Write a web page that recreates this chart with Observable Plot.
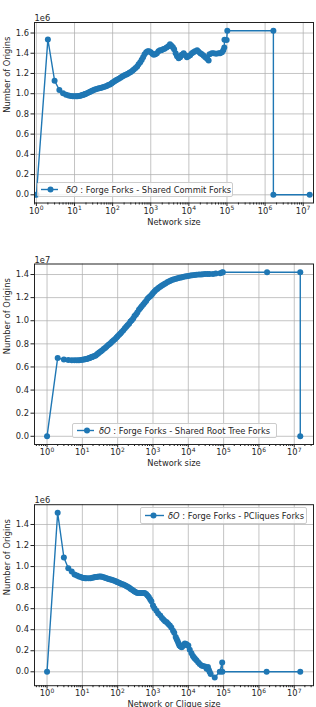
<!DOCTYPE html>
<html><head><meta charset="utf-8">
<script src="https://cdn.jsdelivr.net/npm/d3@7"></script>
<script src="https://cdn.jsdelivr.net/npm/@observablehq/plot@0.6"></script>
<style>
html,body{margin:0;padding:0;background:#fff;overflow:hidden;}
#root{position:relative;width:316px;height:707px;font-family:"DejaVu Sans",sans-serif;overflow:hidden;}
.panel{position:absolute;left:0;width:316px;}
.legend{position:absolute;background:rgba(255,255,255,0.8);border:1px solid #cccccc;border-radius:2px;font-size:8.3px;color:#262626;box-sizing:border-box;white-space:nowrap;}
.legend svg{position:absolute;top:0;left:0;}
.legend span{position:absolute;top:50%;transform:translateY(-50%);}
</style></head>
<body><div id="root"></div>
<script>
const blue = "#1f77b4";

// Panel 1: Shared Commit Forks (values in 1e6)
const commitSizes = [1,2,3,4,5,6,7,8,9,10,11,12,13,14,15,16,17,18,19,20,22,24,26,28,30,33,36,40,44,48,53,58,64,70,77,85,93,100,110,120,130,145,160,175,190,210,230,250,275,300,330,360,400,440,480,530,580,630,690,760,830,900,1000,1100,1200,1320,1450,1600,1750,1900,2100,2300,2600,2900,3200,3500,3800,4100,4500,4900,5400,5900,6500,7300,8000,8900,9800,10800,12000,13200,14500,16500,18000,20000,22000,24500,27000,30000,33000,35000,40000,45000,52000,60000,66000,74000,80000,85000,86000,98000,102000,1650000,1650000,14800000];
const commitOrigins = [0,1.537,1.129,1.037,1.004,0.99,0.982,0.977,0.975,0.974,0.974,0.975,0.977,0.98,0.983,0.986,0.99,0.993,0.996,1.0,1.007,1.013,1.02,1.026,1.032,1.038,1.044,1.05,1.053,1.056,1.06,1.065,1.07,1.077,1.085,1.092,1.1,1.11,1.12,1.13,1.138,1.148,1.158,1.168,1.176,1.185,1.19,1.197,1.206,1.215,1.227,1.24,1.255,1.27,1.29,1.31,1.335,1.36,1.39,1.41,1.42,1.42,1.41,1.395,1.385,1.39,1.40,1.42,1.43,1.43,1.44,1.445,1.458,1.47,1.49,1.475,1.46,1.44,1.40,1.37,1.35,1.36,1.385,1.40,1.38,1.36,1.37,1.38,1.40,1.41,1.42,1.43,1.415,1.40,1.39,1.376,1.36,1.345,1.327,1.39,1.40,1.40,1.395,1.40,1.40,1.41,1.43,1.458,1.534,1.53,1.623,1.623,0,0];

// Panel 2: Shared Root Tree Forks (values in 1e7)
const rootSizes = [1,2,3,4,5,6,7,8,9,10,11,12,13,14,15,16,17,18,19,20,22,24,26,28,30,33,36,40,44,48,53,58,64,70,77,85,93,100,110,120,130,145,160,175,190,210,230,250,275,300,330,360,400,440,480,530,580,640,700,770,850,930,1000,1100,1200,1320,1450,1600,1750,1900,2100,2300,2600,2900,3200,3600,4000,4500,5000,5600,6300,7000,8000,9000,10000,11500,13000,15000,17000,20000,23000,26000,30000,35000,40000,50000,60000,80000,90000,95000,1700000,14800000,14800000];
const rootOrigins = [0,0.678,0.665,0.66,0.658,0.657,0.657,0.658,0.66,0.662,0.664,0.666,0.669,0.672,0.675,0.678,0.681,0.684,0.687,0.69,0.695,0.70,0.71,0.717,0.725,0.733,0.742,0.755,0.765,0.775,0.787,0.797,0.808,0.82,0.832,0.843,0.855,0.865,0.878,0.89,0.903,0.918,0.935,0.948,0.96,0.975,0.993,1.005,1.02,1.04,1.055,1.072,1.095,1.11,1.125,1.14,1.155,1.17,1.19,1.203,1.215,1.228,1.24,1.252,1.265,1.275,1.285,1.295,1.302,1.31,1.318,1.325,1.335,1.342,1.348,1.354,1.358,1.363,1.367,1.371,1.375,1.378,1.382,1.385,1.388,1.391,1.394,1.396,1.398,1.40,1.401,1.402,1.404,1.404,1.405,1.405,1.408,1.412,1.418,1.42,1.42,1.42,0];

// Panel 3: PCliques Forks (values in 1e6)
const cliqueSizes = [1,2,3,4,5,6,7,8,9,10,11,12,13,15,17,19,21,23,25,27,30,33,36,40,44,48,53,58,64,70,77,85,93,100,110,120,130,145,160,175,190,210,230,250,275,300,330,360,400,440,480,530,580,640,700,760,830,900,1000,1100,1250,1400,1600,1800,2000,2200,2450,2700,3000,3300,3700,4000,4400,4700,5000,5300,5600,6000,6500,7000,7500,8000,8500,9000,9500,10000,11000,12300,13500,14500,15500,17000,19000,21000,23600,26000,29500,33000,36000,38000,40000,43000,56000,78000,91000,92000,1650000,14800000];
const cliqueOrigins = [0,1.511,1.086,0.985,0.953,0.925,0.915,0.906,0.90,0.893,0.891,0.89,0.889,0.889,0.89,0.893,0.896,0.90,0.902,0.903,0.905,0.906,0.903,0.898,0.893,0.888,0.884,0.88,0.877,0.873,0.868,0.862,0.857,0.852,0.846,0.84,0.835,0.83,0.822,0.815,0.808,0.80,0.79,0.782,0.772,0.762,0.755,0.75,0.748,0.748,0.75,0.75,0.748,0.74,0.725,0.71,0.69,0.67,0.63,0.605,0.58,0.555,0.535,0.512,0.494,0.48,0.47,0.455,0.44,0.42,0.39,0.37,0.33,0.31,0.29,0.27,0.25,0.24,0.234,0.245,0.26,0.27,0.265,0.26,0.25,0.25,0.21,0.177,0.15,0.135,0.124,0.11,0.092,0.075,0.06,0.055,0.05,0.03,0.045,0.02,0.0,-0.02,-0.054,0.0,0.089,0.0,0.0,0.0];

const xTickExps = [0,1,2,3,4,5,6,7];
const xTickBase = "10";
const xTickSups = ["0","1","2","3","4","5","6","7"];
const yTicks16 = [0,0.2,0.4,0.6,0.8,1.0,1.2,1.4,1.6];
const yTicks14 = [0,0.2,0.4,0.6,0.8,1.0,1.2,1.4];
const yLabel = "Number of Origins";
const xLabels = ["Network size","Network size","Network or Clique size"];
const multipliers = ["1e6","1e7","1e6"];
const legendLabels = [" : Forge Forks - Shared Commit Forks"," : Forge Forks - Shared Root Tree Forks"," : Forge Forks - PCliques Forks"];

const xTickVals = xTickExps.map(e => Math.pow(10, e));
const minorTicks = [];
for (let k = -1; k <= 7; k++) for (let m = 2; m <= 9; m++) minorTicks.push(m * Math.pow(10, k));

function panel(o) {
  const data = o.sizes.map((s, i) => ({s, v: o.values[i]}));
  const lo = o.xDomain[0], hi = o.xDomain[1];
  const minors = minorTicks.filter(d => d >= lo && d <= hi);
  const majorRows = xTickExps.map((e, i) => ({x: xTickVals[i], sup: xTickSups[i]})).filter(d => d.x >= lo && d.x <= hi);
  const majors = majorRows.map(d => d.x);
  return Plot.plot({
    width: 316, height: o.height,
    marginLeft: 34, marginRight: 3, marginTop: o.marginTop, marginBottom: o.marginBottom,
    style: {fontFamily: "DejaVu Sans", fontSize: "8.3px", color: "#262626", background: "transparent", overflow: "visible"},
    x: {type: "log", domain: o.xDomain, label: null},
    y: {domain: o.yDomain, label: null},
    marks: [
      Plot.gridX(majors, {stroke: "#b0b0b0", strokeOpacity: 0.75, strokeWidth: 1}),
      Plot.gridY(o.yTicks, {stroke: "#b0b0b0", strokeOpacity: 0.75, strokeWidth: 1}),
      Plot.line(data, {x: "s", y: "v", stroke: blue, strokeWidth: 1.4, clip: true}),
      Plot.dot(data, {x: "s", y: "v", r: 3, fill: blue, stroke: "none", clip: true}),
      Plot.frame({stroke: "#222", strokeWidth: 1}),
      Plot.axisX(minors, {tickSize: 2, tickFormat: () => "", label: null, stroke: "#222"}),
      Plot.axisX(majors, {tickSize: 3.5, tickFormat: () => "", label: null, stroke: "#222"}),
      Plot.text(majorRows, {x: "x", text: () => xTickBase, frameAnchor: "bottom", textAnchor: "end", dx: 3.2, dy: 10.5, fill: "#262626"}),
      Plot.text(majorRows, {x: "x", text: "sup", frameAnchor: "bottom", textAnchor: "start", dx: 3.4, dy: 7, fontSize: 6, fill: "#262626"}),
      Plot.axisY(o.yTicks, {tickSize: 3.5, tickPadding: 2, label: null, stroke: "#222", tickFormat: d => d.toFixed(1)}),
      Plot.text([o.mult], {frameAnchor: "top-left", textAnchor: "start", lineAnchor: "bottom", dy: -1.5, fill: "#262626"}),
      Plot.text([yLabel], {frameAnchor: "left", dx: -27, rotate: -90, fill: "#262626"}),
      Plot.text([o.xLabel], {frameAnchor: "bottom", dy: 21.5, fill: "#262626"})
    ]
  });
}

const root = document.getElementById("root");
const cfgs = [
  {top: 0, height: 235, marginTop: 22, marginBottom: 32.5, sizes: commitSizes, values: commitOrigins,
   xDomain: [Math.pow(10, -0.05), Math.pow(10, 7.27)], yDomain: [-0.081, 1.704], yTicks: yTicks16,
   xLabel: xLabels[0], mult: multipliers[0],
   legend: {left: 37, top: 182, width: 196, height: 15, line: [3, 20], dot: 12.5, text: 28, label: legendLabels[0]}},
  {top: 235, height: 235, marginTop: 28.5, marginBottom: 26, sizes: rootSizes, values: rootOrigins,
   xDomain: [Math.pow(10, -0.355), Math.pow(10, 7.545)], yDomain: [-0.071, 1.491], yTicks: yTicks14,
   xLabel: xLabels[1], mult: multipliers[1],
   legend: {left: 72, top: 423, width: 205, height: 15, line: [4, 21], dot: 14, text: 26, label: legendLabels[1]}},
  {top: 470, height: 237, marginTop: 34.2, marginBottom: 21.8, sizes: cliqueSizes, values: cliqueOrigins,
   xDomain: [Math.pow(10, -0.355), Math.pow(10, 7.545)], yDomain: [-0.132, 1.588], yTicks: yTicks14,
   xLabel: xLabels[2], mult: multipliers[2],
   legend: {left: 140, top: 507, width: 167, height: 17, line: [4, 23], dot: 12.5, text: 27, label: legendLabels[2]}}
];

for (const c of cfgs) {
  const div = document.createElement("div");
  div.className = "panel";
  div.style.top = c.top + "px";
  div.appendChild(panel(c));
  root.appendChild(div);

  const L = c.legend;
  const lg = document.createElement("div");
  lg.className = "legend";
  Object.assign(lg.style, {left: L.left + "px", top: L.top + "px", width: L.width + "px", height: L.height + "px"});
  const ns = "http://www.w3.org/2000/svg";
  const sv = document.createElementNS(ns, "svg");
  sv.setAttribute("width", 30); sv.setAttribute("height", L.height);
  const ln = document.createElementNS(ns, "line");
  ln.setAttribute("x1", L.line[0]); ln.setAttribute("x2", L.line[1]);
  ln.setAttribute("y1", L.height / 2 - 1); ln.setAttribute("y2", L.height / 2 - 1);
  ln.setAttribute("stroke", blue); ln.setAttribute("stroke-width", 1.4);
  const ci = document.createElementNS(ns, "circle");
  ci.setAttribute("cx", L.dot); ci.setAttribute("cy", L.height / 2 - 1); ci.setAttribute("r", 3);
  ci.setAttribute("fill", blue);
  sv.appendChild(ln); sv.appendChild(ci);
  lg.appendChild(sv);
  const sp = document.createElement("span");
  sp.style.left = L.text + "px";
  const it = document.createElement("i");
  it.textContent = "δO";
  sp.appendChild(it);
  sp.appendChild(document.createTextNode(L.label));
  lg.appendChild(sp);
  root.appendChild(lg);
}
</script>
</body></html>
